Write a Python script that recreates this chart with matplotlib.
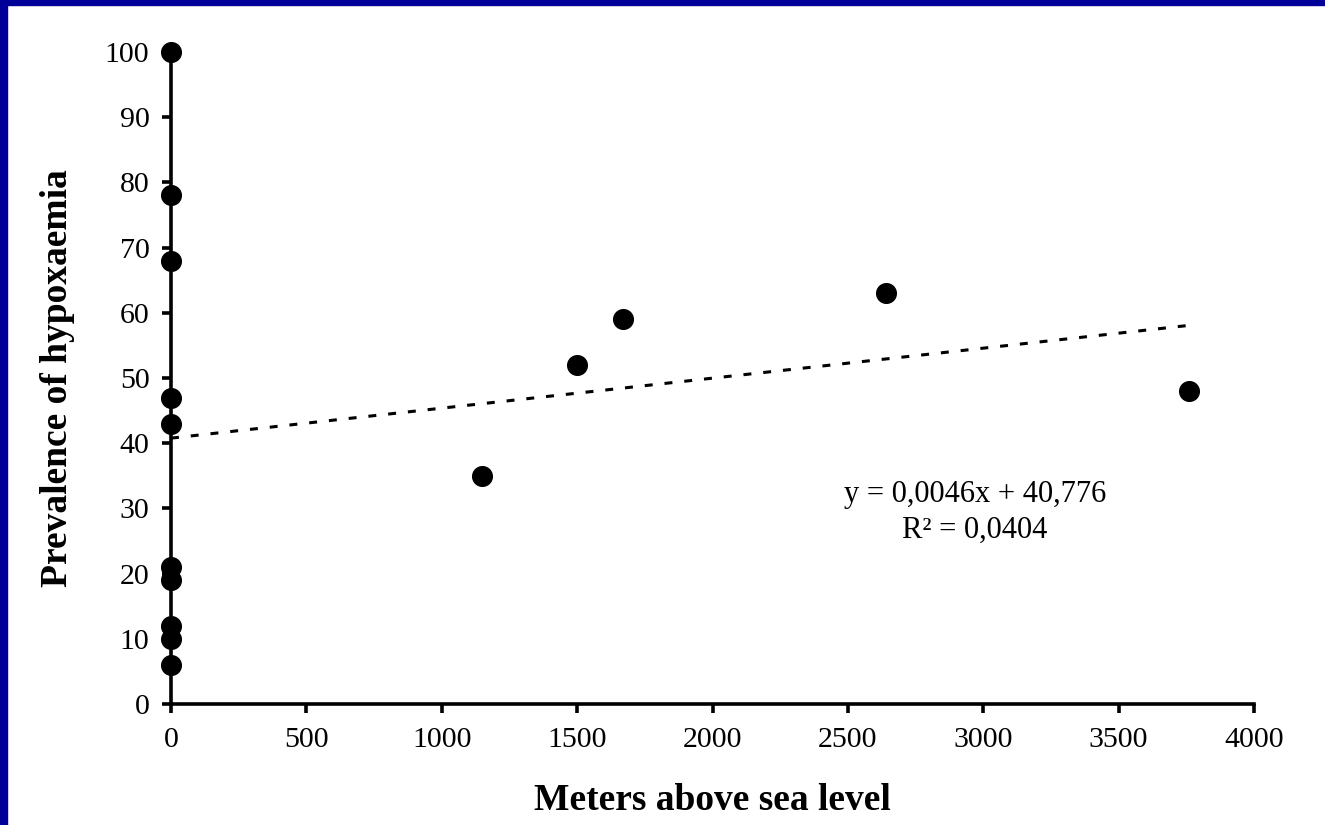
import matplotlib.pyplot as plt
import numpy as np
from matplotlib.patches import Rectangle

# Altitude (m) and prevalence of hypoxaemia (%) for each study site
altitude = [0, 0, 0, 0, 0, 0, 0, 0, 0, 0, 1150, 1500, 1670, 2640, 3760]
prevalence = [100, 78, 68, 47, 43, 21, 19, 12, 10, 6, 35, 52, 59, 63, 48]

# Linear fit reported on the chart
slope = 0.0046
intercept = 40.776
r_squared = 0.0404

x_ticks = [0, 500, 1000, 1500, 2000, 2500, 3000, 3500, 4000]
y_ticks = [0, 10, 20, 30, 40, 50, 60, 70, 80, 90, 100]

NAVY = '#000099'

plt.rcParams['font.family'] = ['Liberation Serif', 'DejaVu Serif']

fig = plt.figure(figsize=(13.25, 8.25), dpi=100)
fig.patch.set_facecolor('white')

# Navy frame along the left and top edges
W, H = 1325, 825
fig.patches.append(Rectangle((0, 0), 7 / W, 1, transform=fig.transFigure,
                             color=NAVY, zorder=0))
fig.patches.append(Rectangle((0, 1 - 5 / H), 1, 5 / H, transform=fig.transFigure,
                             color=NAVY, zorder=0))

ax = fig.add_axes([171 / W, 121 / H, (1254 - 171) / W, (704 - 52) / H])
ax.set_facecolor('white')

ax.scatter(altitude, prevalence, s=200, color='black', zorder=3, clip_on=False)

# dotted trend line over the range of the data
xs = np.array([0, max(altitude)])
ax.plot(xs, slope * xs + intercept, color='black', lw=2.2,
        linestyle=(0, (2.6, 3.9)), zorder=2)

eq_text = f'y = {slope:.4f}x + {intercept:.3f}'.replace('.', ',')
r2_text = f'R² = {r_squared:.4f}'.replace('.', ',')
ax.text(2970, 32.2, eq_text, ha='center', va='center', fontsize=22)
ax.text(2970, 26.6, r2_text, ha='center', va='center', fontsize=22)

ax.set_xlim(0, 4000)
ax.set_ylim(0, 100)
ax.set_xticks(x_ticks)
ax.set_yticks(y_ticks)
ax.tick_params(axis='both', direction='out', length=6.5, width=2.6,
               labelsize=21.5, color='black')
ax.tick_params(axis='y', pad=9)
ax.tick_params(axis='x', pad=10)

for side in ['top', 'right']:
    ax.spines[side].set_visible(False)
for side in ['left', 'bottom']:
    ax.spines[side].set_linewidth(2.6)

ax.set_xlabel('Meters above sea level', fontsize=27, fontweight='bold')
ax.set_ylabel('Prevalence of hypoxaemia', fontsize=27, fontweight='bold')
ax.xaxis.set_label_coords(0.5, -0.121)
ax.yaxis.set_label_coords(-0.089, 0.5)

plt.savefig('out.png', dpi=100, facecolor='white')
